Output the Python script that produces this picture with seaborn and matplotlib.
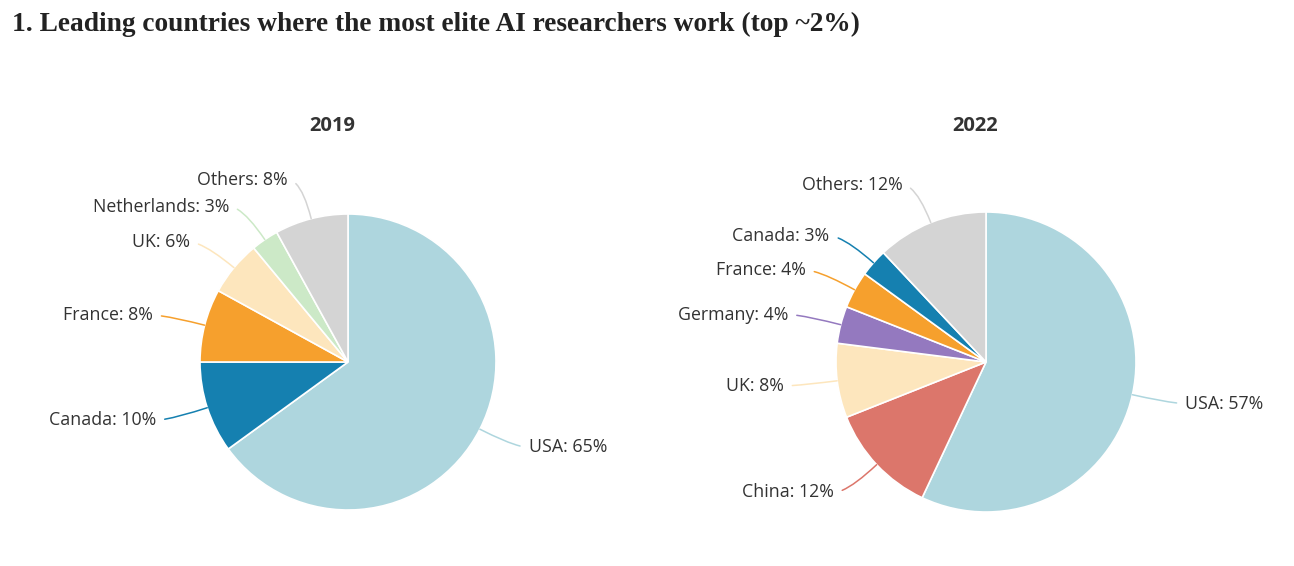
import numpy as np
import matplotlib
matplotlib.use("Agg")
import matplotlib.pyplot as plt
import seaborn as sns

# chart data
countries_2019 = ["USA", "Canada", "France", "UK", "Netherlands", "Others"]
shares_2019 = [65, 10, 8, 6, 3, 8]
countries_2022 = ["USA", "China", "UK", "Germany", "France", "Canada", "Others"]
shares_2022 = [57, 12, 8, 4, 4, 3, 12]
title = "1. Leading countries where the most elite AI researchers work (top ~2%)"
years = ["2019", "2022"]

colors = {
    "USA": "#aed6de",
    "Canada": "#1580b0",
    "France": "#f6a02d",
    "UK": "#fde6bd",
    "Netherlands": "#cce9c7",
    "Others": "#d4d4d4",
    "China": "#dc766b",
    "Germany": "#9479bf",
}

sns.set_theme(style="white")
plt.rcParams["font.family"] = ["Open Sans", "DejaVu Sans"]

W, H = 1294, 566
fig = plt.figure(figsize=(W / 100, H / 100), dpi=100)
fig.patch.set_facecolor("white")

fig.text(12 / W, 1 - 24 / H, title, family="Liberation Serif", fontsize=19.7,
         fontweight="bold", color="#222222", va="center", ha="left")


def draw_pie(cx, cy, r, labels, values, year, title_x):
    hw, hh = 300, 200
    ax = fig.add_axes([(cx - hw) / W, (H - cy - hh) / H, 2 * hw / W, 2 * hh / H])
    wedges, _ = ax.pie(values, colors=[colors[c] for c in labels], startangle=90,
                       counterclock=False, radius=1,
                       wedgeprops=dict(edgecolor="white", linewidth=1.2))
    ax.set_xlim(-hw / r, hw / r)
    ax.set_ylim(-hh / r, hh / r)
    ax.set_aspect("equal")
    ax.axis("off")
    for w, lab, val in zip(wedges, labels, values):
        mid = np.deg2rad((w.theta1 + w.theta2) / 2)
        dx, dy = np.cos(mid), np.sin(mid)
        side = 1 if dx >= 0 else -1
        edge = (dx, dy)
        elbow = (1.27 * dx, 1.27 * dy)
        txt = (elbow[0] + side * 0.09, elbow[1])
        ax.annotate(f"{lab}: {val}%", xy=edge, xytext=txt,
                    ha="left" if side > 0 else "right", va="center",
                    fontsize=12.8, color="#333333", annotation_clip=False,
                    arrowprops=dict(arrowstyle="-", color=colors[lab], lw=1.1,
                                    shrinkA=4, shrinkB=0,
                                    relpos=(0, 0.5) if side > 0 else (1, 0.5),
                                    connectionstyle=f"angle3,angleA=0,angleB={np.rad2deg(mid):.2f}"))
    fig.text(title_x / W, 1 - 126 / H, year, ha="center", va="center",
             fontsize=14.5, fontweight="bold", color="#333333")


draw_pie(348, 362, 148, countries_2019, shares_2019, years[0], 332)
draw_pie(986, 362, 150, countries_2022, shares_2022, years[1], 975)

fig.savefig("out.png", dpi=100, facecolor="white")
